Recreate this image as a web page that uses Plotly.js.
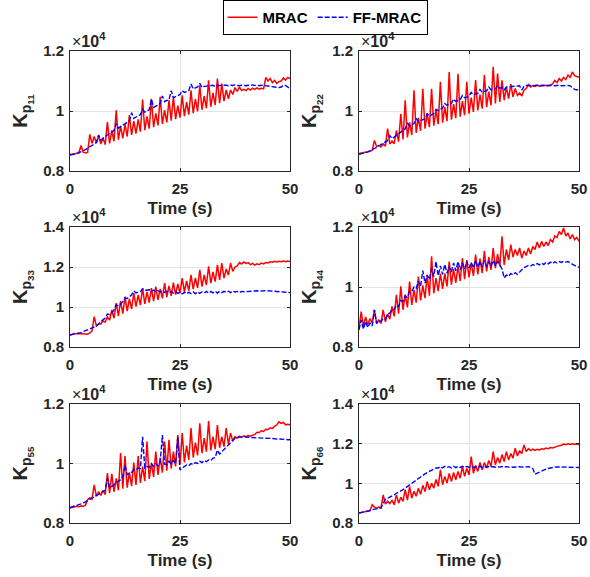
<!DOCTYPE html>
<html>
<head>
<meta charset="utf-8">
<script src="https://cdn.plot.ly/plotly-3.0.1.min.js"></script>
<style>html,body{margin:0;padding:0;background:#fff;}#chart{width:590px;height:577px;}</style>
</head>
<body>
<div id="chart"></div>
<script>
// Time axis (s)
const TIME = [0,0.5,1,1.5,2,2.5,3,3.5,4,4.5,5,5.5,6,6.5,7,7.5,8,8.5,9,9.5,10,10.5,11,11.5,12,12.5,13,13.5,14,14.5,15,15.5,16,16.5,17,17.5,18,18.5,19,19.5,20,20.5,21,21.5,22,22.5,23,23.5,24,24.5,25,25.5,26,26.5,27,27.5,28,28.5,29,29.5,30,30.5,31,31.5,32,32.5,33,33.5,34,34.5,35,35.5,36,36.5,37,37.5,38,38.5,39,39.5,40,40.5,41,41.5,42,42.5,43,43.5,44,44.5,45,45.5,46,46.5,47,47.5,48,48.5,49,49.5,50];

// Gains in units of 1e4
const MRAC_KP11 = [0.855,0.856,0.857,0.858,0.860,0.885,0.863,0.860,0.862,0.922,
0.892,0.915,0.893,0.918,0.890,0.910,0.888,0.963,0.892,0.935,
0.899,1.002,0.904,0.950,0.909,0.955,0.915,0.986,0.920,0.966,
0.925,0.972,0.931,1.038,0.936,0.982,0.941,1.041,0.946,0.992,
0.952,1.047,0.957,1.003,0.962,1.036,0.968,1.047,0.973,1.018,
0.978,1.052,0.983,1.030,0.988,1.069,0.993,1.040,0.999,1.086,
1.004,1.050,1.009,1.102,1.014,1.060,1.020,1.108,1.026,1.091,
1.033,1.070,1.041,1.070,1.055,1.078,1.065,1.080,1.068,1.072,
1.068,1.075,1.070,1.076,1.072,1.077,1.073,1.076,1.074,1.112,
1.100,1.108,1.095,1.102,1.092,1.098,1.100,1.110,1.103,1.112,
1.108];
const FF_KP11 = [0.853,0.854,0.856,0.858,0.861,0.864,0.867,0.871,0.876,0.880,
0.885,0.890,0.895,0.920,0.903,0.910,0.915,0.920,0.926,0.930,
0.935,0.958,0.943,0.948,0.953,0.958,0.962,0.967,0.994,0.975,
0.980,0.984,0.988,1.005,0.996,1.000,1.004,1.040,1.012,1.016,
1.020,1.024,1.050,1.031,1.035,1.038,1.068,1.044,1.048,1.051,
1.055,1.068,1.062,1.065,1.068,1.090,1.074,1.077,1.080,1.092,
1.078,1.082,1.083,1.084,1.085,1.086,1.082,1.086,1.085,1.086,
1.085,1.086,1.084,1.086,1.085,1.087,1.085,1.084,1.086,1.085,
1.084,1.086,1.085,1.087,1.085,1.086,1.084,1.086,1.085,1.086,
1.085,1.084,1.082,1.080,1.080,1.078,1.080,1.086,1.085,1.078,
1.074];

const MRAC_KP22 = [0.858,0.859,0.860,0.862,0.864,0.866,0.869,0.902,0.882,0.885,
0.880,0.890,0.883,0.941,0.890,0.900,0.891,0.935,0.898,0.991,
0.905,1.036,0.912,0.962,0.920,1.069,0.927,0.977,0.934,1.074,
0.941,0.993,0.946,1.074,0.951,1.003,0.956,1.097,0.961,1.013,
0.966,1.130,0.971,1.023,0.976,1.124,0.981,1.033,0.986,1.097,
0.991,1.045,0.997,1.103,1.002,1.055,1.008,1.120,1.013,1.065,
1.019,1.147,1.025,1.125,1.030,1.102,1.036,1.080,1.041,1.090,
1.047,1.075,1.052,1.060,1.050,1.070,1.075,1.088,1.080,1.085,
1.082,1.086,1.083,1.085,1.084,1.086,1.085,1.087,1.090,1.102,
1.095,1.108,1.100,1.112,1.105,1.120,1.112,1.130,1.118,1.115,
1.112];
const FF_KP22 = [0.856,0.857,0.859,0.861,0.864,0.867,0.871,0.875,0.879,0.884,
0.889,0.893,0.898,0.902,0.918,0.908,0.913,0.918,0.923,0.928,
0.936,0.941,0.960,0.950,0.954,0.958,0.975,0.965,0.968,0.971,
0.974,0.990,0.983,0.987,0.992,1.005,1.001,1.006,1.010,1.025,
1.019,1.022,1.025,1.040,1.032,1.035,1.038,1.052,1.044,1.046,
1.049,1.062,1.054,1.057,1.059,1.072,1.063,1.065,1.067,1.080,
1.071,1.073,1.074,1.085,1.076,1.078,1.070,1.080,1.081,1.082,
1.082,1.083,1.084,1.084,1.070,1.082,1.085,1.086,1.085,1.084,
1.085,1.086,1.084,1.085,1.086,1.084,1.085,1.086,1.085,1.084,
1.085,1.086,1.084,1.085,1.086,1.085,1.084,1.078,1.072,1.071,
1.071];

const MRAC_KP33 = [0.860,0.866,0.868,0.866,0.868,0.867,0.866,0.865,0.864,0.870,
0.880,0.952,0.905,0.915,0.915,0.930,0.925,0.950,0.935,0.985,
0.944,1.019,0.955,1.030,0.967,1.052,0.979,1.040,0.990,1.069,
1.002,1.060,1.009,1.094,1.016,1.075,1.022,1.094,1.029,1.102,
1.036,1.090,1.043,1.119,1.049,1.105,1.056,1.122,1.062,1.115,
1.069,1.144,1.076,1.130,1.082,1.161,1.089,1.145,1.095,1.186,
1.102,1.160,1.110,1.203,1.119,1.175,1.127,1.211,1.136,1.219,
1.144,1.190,1.160,1.219,1.178,1.200,1.205,1.222,1.215,1.225,
1.218,1.222,1.212,1.218,1.210,1.216,1.212,1.220,1.215,1.222,
1.220,1.226,1.224,1.228,1.225,1.229,1.226,1.230,1.227,1.230,
1.228];
const FF_KP33 = [0.860,0.862,0.864,0.866,0.869,0.872,0.877,0.881,0.885,0.889,
0.894,0.900,0.907,0.914,0.927,0.935,0.945,0.965,0.962,0.970,
0.986,1.010,1.005,1.015,1.027,1.045,1.043,1.050,1.061,1.080,
1.070,1.075,1.077,1.090,1.082,1.085,1.086,1.078,1.084,1.076,
1.082,1.075,1.080,1.073,1.079,1.072,1.078,1.070,1.076,1.068,
1.074,1.066,1.073,1.066,1.074,1.067,1.075,1.066,1.076,1.068,
1.076,1.070,1.078,1.070,1.078,1.071,1.079,1.070,1.078,1.072,
1.078,1.073,1.079,1.072,1.080,1.075,1.078,1.072,1.078,1.076,
1.077,1.079,1.078,1.080,1.079,1.081,1.080,1.082,1.081,1.082,
1.081,1.080,1.082,1.081,1.079,1.078,1.077,1.076,1.075,1.074,
1.072];

const MRAC_KP44 = [0.862,0.918,0.870,0.900,0.875,0.895,0.880,0.924,0.880,0.890,
0.879,0.924,0.884,0.910,0.893,0.935,0.902,0.974,0.911,1.002,
0.924,0.975,0.932,1.018,0.940,0.990,0.948,1.035,0.955,1.005,
0.963,1.040,0.971,1.102,0.979,1.030,0.986,1.045,0.994,1.045,
1.002,1.085,1.008,1.060,1.014,1.070,1.020,1.096,1.026,1.090,
1.032,1.080,1.037,1.108,1.042,1.095,1.047,1.120,1.052,1.100,
1.057,1.130,1.063,1.110,1.069,1.169,1.074,1.125,1.090,1.141,
1.100,1.125,1.105,1.130,1.096,1.120,1.105,1.130,1.110,1.135,
1.125,1.150,1.130,1.152,1.135,1.150,1.138,1.158,1.150,1.170,
1.165,1.185,1.175,1.197,1.170,1.180,1.160,1.175,1.158,1.165,
1.152];
const FF_KP44 = [0.857,0.890,0.860,0.885,0.865,0.880,0.870,0.924,0.878,0.888,
0.885,0.895,0.893,0.910,0.913,0.925,0.925,0.940,0.935,0.955,
0.952,0.970,0.965,0.985,0.985,1.000,0.995,1.020,1.003,1.055,
1.013,1.040,1.025,1.060,1.035,1.085,1.038,1.070,1.042,1.075,
1.046,1.068,1.050,1.080,1.054,1.085,1.057,1.080,1.060,1.085,
1.063,1.082,1.064,1.088,1.066,1.085,1.067,1.088,1.068,1.085,
1.069,1.088,1.071,1.085,1.074,1.060,1.030,1.040,1.035,1.045,
1.040,1.048,1.042,1.050,1.057,1.065,1.068,1.072,1.070,1.075,
1.072,1.078,1.074,1.080,1.075,1.082,1.077,1.083,1.078,1.084,
1.080,1.085,1.082,1.086,1.083,1.085,1.080,1.075,1.070,1.068,
1.066];

const MRAC_KP55 = [0.850,0.852,0.855,0.856,0.855,0.857,0.856,0.860,0.878,0.885,
0.880,0.928,0.890,0.905,0.893,0.910,0.895,0.968,0.900,0.965,
0.905,0.950,0.910,1.035,0.915,1.025,0.919,0.970,0.924,1.003,
0.928,1.025,0.935,0.990,0.941,1.074,0.948,1.000,0.955,1.040,
0.962,1.020,0.969,1.074,0.976,1.080,0.983,1.040,0.990,1.096,
0.996,1.102,1.004,1.060,1.012,1.119,1.020,1.070,1.027,1.135,
1.035,1.085,1.040,1.143,1.044,1.090,1.048,1.129,1.053,1.090,
1.057,1.119,1.065,1.102,1.075,1.090,1.085,1.092,1.088,1.093,
1.090,1.094,1.092,1.096,1.098,1.105,1.104,1.110,1.108,1.115,
1.114,1.120,1.118,1.125,1.130,1.140,1.135,1.138,1.130,1.132,
1.130];
const FF_KP55 = [0.852,0.854,0.856,0.858,0.861,0.864,0.867,0.872,0.876,0.880,
0.884,0.888,0.892,0.896,0.900,0.905,0.910,0.950,0.918,0.923,
0.928,0.935,0.940,0.946,0.956,0.995,0.962,0.966,0.970,0.980,
0.979,0.985,0.983,1.090,0.985,0.990,0.987,1.000,0.990,1.000,
0.992,1.005,1.096,0.998,0.996,1.008,0.998,1.010,1.000,1.090,
0.978,0.985,0.990,0.995,0.992,1.000,0.996,1.003,1.000,1.008,
1.003,1.010,1.006,1.012,1.010,1.018,1.020,1.045,1.032,1.040,
1.046,1.055,1.063,1.072,1.080,1.085,1.088,1.089,1.090,1.090,
1.089,1.088,1.088,1.087,1.087,1.086,1.086,1.086,1.085,1.085,
1.085,1.084,1.084,1.083,1.083,1.082,1.082,1.081,1.081,1.080,
1.080];

const MRAC_KP66 = [0.850,0.853,0.856,0.858,0.860,0.862,0.892,0.880,0.875,0.880,
0.876,0.942,0.895,0.910,0.898,0.915,0.892,0.942,0.900,0.930,
0.909,0.968,0.915,0.984,0.925,0.960,0.935,0.975,0.945,0.990,
0.959,1.009,0.968,1.000,0.976,1.020,0.985,1.068,0.993,1.035,
1.001,1.050,1.009,1.055,1.018,1.060,1.026,1.085,1.035,1.075,
1.043,1.135,1.051,1.090,1.060,1.105,1.068,1.105,1.077,1.115,
1.085,1.160,1.093,1.130,1.102,1.145,1.110,1.160,1.118,1.150,
1.127,1.177,1.138,1.165,1.150,1.194,1.160,1.175,1.165,1.172,
1.166,1.172,1.168,1.174,1.172,1.178,1.175,1.180,1.178,1.183,
1.185,1.190,1.192,1.198,1.195,1.199,1.196,1.200,1.197,1.198,
1.195];
const FF_KP66 = [0.850,0.852,0.855,0.857,0.860,0.863,0.867,0.869,0.871,0.873,
0.876,0.900,0.920,0.925,0.930,0.936,0.942,0.950,0.955,0.962,
0.968,0.976,0.984,0.992,1.001,1.010,1.018,1.027,1.035,1.042,
1.048,1.054,1.060,1.066,1.070,1.078,1.077,1.085,1.078,1.086,
1.080,1.084,1.078,1.086,1.079,1.085,1.080,1.086,1.079,1.085,
1.081,1.086,1.080,1.085,1.081,1.086,1.080,1.085,1.081,1.085,
1.082,1.085,1.081,1.084,1.082,1.085,1.081,1.084,1.082,1.084,
1.081,1.083,1.082,1.084,1.082,1.084,1.083,1.084,1.080,1.075,
1.046,1.052,1.058,1.063,1.068,1.072,1.075,1.078,1.080,1.082,
1.083,1.083,1.082,1.083,1.082,1.083,1.082,1.082,1.081,1.081,
1.080];

const SERIES_NAMES = ['MRAC', 'FF-MRAC'];
const PANEL_LABELS = ['11', '22', '33', '44', '55', '66'];
const X_TICKS = [0, 25, 50];
const Y_RANGES = [[0.8, 1.2], [0.8, 1.2], [0.8, 1.4], [0.8, 1.2], [0.8, 1.2], [0.8, 1.4]];
const Y_TICKS_SHORT = [0.8, 1, 1.2];
const Y_TICKS_TALL = [0.8, 1, 1.2, 1.4];
const MRAC_SETS = [MRAC_KP11, MRAC_KP22, MRAC_KP33, MRAC_KP44, MRAC_KP55, MRAC_KP66];
const FF_SETS = [FF_KP11, FF_KP22, FF_KP33, FF_KP44, FF_KP55, FF_KP66];

// layout geometry (pixels)
const W = 590, H = 577;
const COLS = [[70, 290], [359, 579]];
const ROWS = [[51, 171], [227, 347], [404, 523]];

const FONT = 'Liberation Sans, Arial, sans-serif';
const AXIS_COLOR = '#262626';
const GRID_COLOR = '#e3e3e3';

const traces = [];
const layout = {
  width: W, height: H,
  margin: {l: 0, r: 0, t: 0, b: 0},
  paper_bgcolor: '#fff', plot_bgcolor: '#fff',
  font: {family: FONT, color: '#000'},
  showlegend: true,
  legend: {
    orientation: 'h', x: 325 / W, xanchor: 'center', y: 1, yanchor: 'top',
    bordercolor: '#000', borderwidth: 1, bgcolor: '#fff',
    font: {family: FONT, size: 15, weight: 'bold', color: '#000'},
    itemwidth: 30, tracegroupgap: 0
  },
  annotations: []
};

for (let k = 0; k < 6; k++) {
  const row = Math.floor(k / 2), col = k % 2;
  const n = k + 1;
  const xa = n === 1 ? 'x' : 'x' + n;
  const ya = n === 1 ? 'y' : 'y' + n;
  const xKey = n === 1 ? 'xaxis' : 'xaxis' + n;
  const yKey = n === 1 ? 'yaxis' : 'yaxis' + n;
  const [x0, x1] = COLS[col];
  const [yt, yb] = ROWS[row];
  traces.push({
    x: TIME, y: MRAC_SETS[k], xaxis: xa, yaxis: ya, type: 'scatter', mode: 'lines',
    name: SERIES_NAMES[0], legendgroup: 'm', showlegend: k === 0,
    line: {color: '#ff0000', width: 1.5}
  });
  traces.push({
    x: TIME, y: FF_SETS[k], xaxis: xa, yaxis: ya, type: 'scatter', mode: 'lines',
    name: SERIES_NAMES[1], legendgroup: 'f', showlegend: k === 0,
    line: {color: '#0000ff', width: 1.4, dash: '5px,2px'}
  });
  const yr = Y_RANGES[k];
  const yt_vals = yr[1] > 1.3 ? Y_TICKS_TALL : Y_TICKS_SHORT;
  layout[xKey] = {
    domain: [x0 / W, x1 / W], anchor: ya, range: [0, 50],
    tickvals: X_TICKS, ticktext: X_TICKS.map(String),
    ticks: 'inside', ticklen: 3, tickcolor: AXIS_COLOR,
    showline: true, linecolor: AXIS_COLOR, linewidth: 1, mirror: 'ticks',
    showgrid: true, gridcolor: GRID_COLOR, zeroline: false,
    tickfont: {family: FONT, size: 15, weight: 'bold', color: AXIS_COLOR},
    ticklabelstandoff: 4,
    title: {text: 'Time (s)', font: {family: FONT, size: 17, weight: 'bold', color: AXIS_COLOR}, standoff: 6},
    automargin: false, fixedrange: true
  };
  layout[yKey] = {
    domain: [1 - yb / H, 1 - yt / H], anchor: xa, range: yr,
    tickvals: yt_vals, ticktext: yt_vals.map(String),
    ticks: 'inside', ticklen: 3, tickcolor: AXIS_COLOR,
    showline: true, linecolor: AXIS_COLOR, linewidth: 1, mirror: 'ticks',
    showgrid: true, gridcolor: GRID_COLOR, zeroline: false,
    tickfont: {family: FONT, size: 15, weight: 'bold', color: AXIS_COLOR},
    ticklabelstandoff: 2,
    title: {text: 'K<sub>p<sub>' + PANEL_LABELS[k] + '</sub></sub>', font: {family: FONT, size: 20, weight: 'bold', color: AXIS_COLOR}, standoff: 10},
    automargin: false, fixedrange: true
  };
  layout.annotations.push({
    xref: 'paper', yref: 'paper', x: x0 / W, y: 1 - yt / H, xanchor: 'left', yanchor: 'bottom',
    text: '×<b>10<sup>4</sup></b>', showarrow: false,
    font: {family: FONT, size: 16, color: AXIS_COLOR}, xshift: 0, yshift: -1
  });
}

Plotly.newPlot('chart', traces, layout, {displayModeBar: false, staticPlot: true});
</script>
</body>
</html>
